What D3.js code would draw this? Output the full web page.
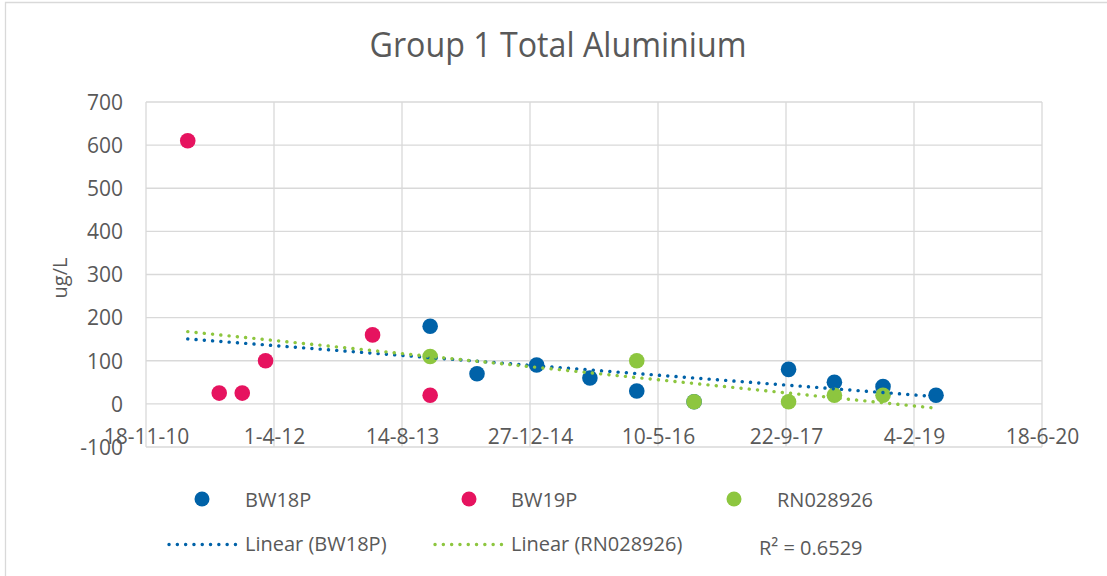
<!DOCTYPE html>
<html>
<head>
<meta charset="utf-8">
<script src="https://cdn.jsdelivr.net/npm/d3@7"></script>
<style>
  body { margin: 0; background: #fff; }
  svg { display: block; }
  text { font-family: "Open Sans", sans-serif; fill: #595959; }
</style>
</head>
<body>
<svg width="1107" height="576"></svg>
<script>
// chart values
const title = "Group 1 Total Aluminium"
const yLabel = "ug/L"
const seriesNames = ["BW18P", "BW19P", "RN028926"]
const seriesColors = ["#0062a8", "#e6135f", "#8dc63f"]

const bw18pDates = ["2013-12-02", "2014-06-03", "2015-01-22", "2015-08-18", "2016-02-17",
                    "2016-09-28", "2017-10-02", "2018-03-30", "2018-10-06", "2019-05-01"]
const bw18pValues = [180, 70, 90, 60, 30, 5, 80, 50, 40, 20]

const bw19pDates = ["2011-04-30", "2011-08-31", "2011-11-29", "2012-02-28", "2013-04-21", "2013-12-02"]
const bw19pValues = [610, 25, 25, 100, 160, 20]

const rn028926Dates = ["2013-12-02", "2016-02-17", "2016-09-28", "2017-10-02", "2018-03-30", "2018-10-06"]
const rn028926Values = [110, 100, 5, 5, 20, 20]

const xTickLabels = ["18-11-10", "1-4-12", "14-8-13", "27-12-14", "10-5-16", "22-9-17", "4-2-19", "18-6-20"]
const yTicks = [-100, 0, 100, 200, 300, 400, 500, 600, 700]
const trendSeries = [0, 2]   // BW18P and RN028926 have linear trendlines
const rSquaredLabel = "R² = 0.6529"

const parseIso = d3.timeParse("%Y-%m-%d")
const parseTick = d3.timeParse("%d-%m-%y")
const fmtTick = d3.timeFormat("%-d-%-m-%y")

const series = [
  {name: seriesNames[0], color: seriesColors[0], pts: bw18pDates.map((d, i) => ({date: parseIso(d), v: bw18pValues[i]}))},
  {name: seriesNames[1], color: seriesColors[1], pts: bw19pDates.map((d, i) => ({date: parseIso(d), v: bw19pValues[i]}))},
  {name: seriesNames[2], color: seriesColors[2], pts: rn028926Dates.map((d, i) => ({date: parseIso(d), v: rn028926Values[i]}))}
]
const xTickDates = xTickLabels.map(parseTick)

const svg = d3.select("svg")

// outer chart border (only top/left visible in the crop)
svg.append("path")
  .attr("d", "M5.5,580 V2.5 H1120")
  .attr("fill", "none")
  .attr("stroke", "#d9d9d9")
  .attr("stroke-width", 1.3)

const x = d3.scaleTime().domain(d3.extent(xTickDates)).range([146, 1042])
const y = d3.scaleLinear().domain([-100, 700]).range([447, 102])

// gridlines
const grid = svg.append("g").attr("stroke", "#d9d9d9").attr("stroke-width", 1.3)
grid.selectAll("line.h")
  .data(yTicks)
  .enter()
  .append("line")
  .attr("class", "h")
  .attr("x1", x.range()[0]).attr("x2", x.range()[1])
  .attr("y1", d => y(d)).attr("y2", d => y(d))
grid.selectAll("line.v")
  .data(xTickDates)
  .enter()
  .append("line")
  .attr("class", "v")
  .attr("x1", d => x(d)).attr("x2", d => x(d))
  .attr("y1", y.range()[1]).attr("y2", y.range()[0])

// y axis labels (plain hyphen for negatives, like the sheet)
const yAxis = svg.append("g")
  .attr("transform", "translate(146,0)")
  .call(d3.axisLeft(y).tickValues(yTicks).tickFormat(d => String(d)).tickSize(0).tickPadding(23))
yAxis.select(".domain").remove()
yAxis.selectAll("text")
  .attr("font-family", "Open Sans")
  .attr("font-size", 21)
  .attr("fill", "#595959")
  .attr("dy", "0.35em")

// x axis labels, axis crosses at 0
const xAxis = svg.append("g")
  .attr("transform", "translate(0," + y(0) + ")")
  .call(d3.axisBottom(x).tickValues(xTickDates).tickFormat(fmtTick).tickSize(0))
xAxis.select(".domain").remove()
xAxis.selectAll("text")
  .attr("font-family", "Open Sans")
  .attr("font-size", 21)
  .attr("fill", "#595959")
  .attr("y", 40.5)
  .attr("dy", null)

// title and axis title
svg.append("text")
  .attr("x", 558).attr("y", 57)
  .attr("text-anchor", "middle")
  .attr("font-size", 34)
  .attr("textLength", 377)
  .attr("lengthAdjust", "spacingAndGlyphs")
  .text(title)

svg.append("text")
  .attr("transform", "translate(67,278) rotate(-90)")
  .attr("text-anchor", "middle")
  .attr("font-size", 20)
  .text(yLabel)

// points
series.forEach(s => {
  svg.append("g").selectAll("circle")
    .data(s.pts)
    .enter()
    .append("circle")
    .attr("cx", d => x(d.date))
    .attr("cy", d => y(d.v))
    .attr("r", 7.8)
    .attr("fill", s.color)
})

// linear trendlines over the full date range of the sheet
const allDates = series.flatMap(s => s.pts.map(p => p.date))
const dateExtent = d3.extent(allDates)
const dayMs = 864e5

function linearFit(pts) {
  const xs = pts.map(p => p.date / dayMs), ys = pts.map(p => p.v)
  const mx = d3.mean(xs), my = d3.mean(ys)
  const sxy = d3.sum(xs, (v, i) => (v - mx) * (ys[i] - my))
  const sxx = d3.sum(xs, v => (v - mx) * (v - mx))
  const b = sxy / sxx
  return t => my + b * (t / dayMs - mx)
}

const dotted = sel => sel
  .attr("fill", "none")
  .attr("stroke-width", 3.4)
  .attr("stroke-linecap", "round")
  .attr("stroke-dasharray", "0.1 8.2")

trendSeries.forEach(k => {
  const f = linearFit(series[k].pts)
  svg.append("line")
    .attr("x1", x(dateExtent[0])).attr("y1", y(f(dateExtent[0])))
    .attr("x2", x(dateExtent[1])).attr("y2", y(f(dateExtent[1])))
    .attr("stroke", series[k].color)
    .call(dotted)
})

// legend
const legendX = [[202, 245], [469, 511], [734, 777]]
const legend1 = svg.append("g")
series.forEach((s, i) => {
  legend1.append("circle")
    .attr("cx", legendX[i][0]).attr("cy", 499).attr("r", 7.5)
    .attr("fill", s.color)
  legend1.append("text")
    .attr("x", legendX[i][1]).attr("y", 507)
    .attr("font-size", 20)
    .text(s.name)
})

const trendLegendX = [[169, 238, 245], [435, 504, 511]]
trendSeries.forEach((k, i) => {
  svg.append("line")
    .attr("x1", trendLegendX[i][0]).attr("x2", trendLegendX[i][1])
    .attr("y1", 544.5).attr("y2", 544.5)
    .attr("stroke", series[k].color)
    .call(dotted)
  svg.append("text")
    .attr("x", trendLegendX[i][2]).attr("y", 550.5)
    .attr("font-size", 20)
    .text("Linear (" + series[k].name + ")")
})

svg.append("text")
  .attr("x", 759).attr("y", 555)
  .attr("font-size", 20)
  .text(rSquaredLabel)
</script>
</body>
</html>
